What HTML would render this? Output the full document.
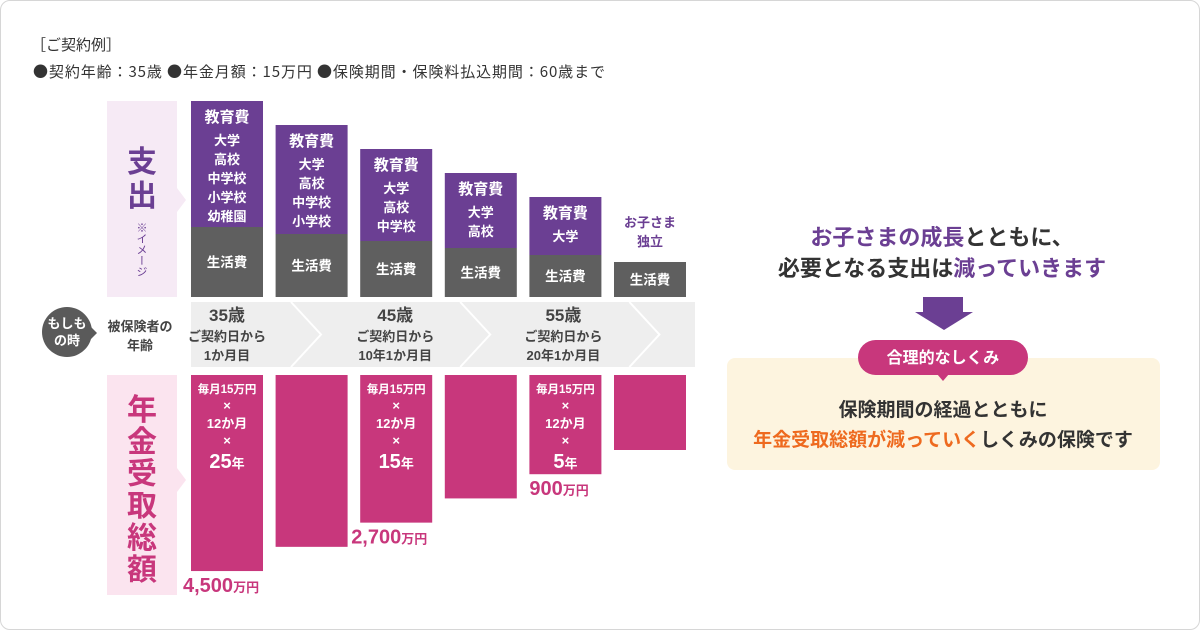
<!DOCTYPE html>
<html><head><meta charset="utf-8"><style>
body{margin:0;background:#fff;}
#wrap{position:relative;width:1200px;height:630px;overflow:hidden;font-family:"Liberation Sans","Noto Sans CJK JP",sans-serif;}
#frame{position:absolute;left:0;top:0;width:1198px;height:628px;border:1px solid #d6d6d6;border-radius:10px;}
svg text{font-family:"Liberation Sans","Noto Sans CJK JP",sans-serif;}
</style></head><body>
<div id="wrap">
<div id="frame"></div>
<svg id="chart" width="1200" height="630" style="position:absolute;left:0;top:0">
  <text x="31" y="50" font-size="15" fill="#333">［ご契約例］</text>
  <text x="33" y="77" font-size="15" fill="#333" textLength="572" style="font-family:'Noto Sans CJK JP','Liberation Sans',sans-serif">●契約年齢：35歳 ●年金月額：15万円 ●保険期間・保険料払込期間：60歳まで</text>
  <!-- expense label -->
  <rect x="107" y="101" width="70" height="196" fill="#f6eaf5"/>
  <polygon points="177,188 186,200 177,212" fill="#f6eaf5"/>
  <text x="142" y="172" font-size="30" font-weight="bold" fill="#6b3f93" text-anchor="middle"><tspan x="142">支</tspan><tspan x="142" dy="34">出</tspan></text>
  <text x="141" y="222" font-size="11" fill="#6b3f93" writing-mode="tb">※イメージ</text>
  <!-- payout label -->
  <rect x="107" y="375" width="70" height="220" fill="#fbe4ef"/>
  <polygon points="177,468 186,480 177,492" fill="#fbe4ef"/>
  <text x="142" y="420" font-size="30" font-weight="bold" fill="#c8377c" text-anchor="middle"><tspan x="142">年</tspan><tspan x="142" dy="32">金</tspan><tspan x="142" dy="32">受</tspan><tspan x="142" dy="32">取</tspan><tspan x="142" dy="32">総</tspan><tspan x="142" dy="32">額</tspan></text>
  <!-- age band -->
  <rect x="191" y="302" width="504" height="65" fill="#eeeeee"/>
  <circle cx="67" cy="332" r="25" fill="#5a5a5a"/>
  <polygon points="91,327 97,333 91,339" fill="#5a5a5a"/>
  <text x="67" y="328" font-size="13" font-weight="bold" fill="#fff" text-anchor="middle"><tspan x="67">もしも</tspan><tspan x="67" dy="17">の時</tspan></text>
  <text x="140" y="331" font-size="13" font-weight="bold" fill="#444" text-anchor="middle"><tspan x="140">被保険者の</tspan><tspan x="140" dy="19">年齢</tspan></text>
  <g id="chev"></g>
  <g id="bars"></g>
  <!-- right -->
  <text x="942" y="245" font-size="22" font-weight="bold" text-anchor="middle" fill="#333"><tspan fill="#6b3f93">お子さまの成長</tspan>とともに、</text>
  <text x="942" y="276" font-size="22" font-weight="bold" text-anchor="middle" fill="#333">必要となる支出は<tspan fill="#6b3f93">減っていきます</tspan></text>
  <rect x="923" y="297" width="40" height="16" fill="#6b3f93"/>
  <polygon points="915,312 973,312 944,330" fill="#6b3f93"/>
  <rect x="727" y="358" width="433" height="112" rx="8" fill="#fdf4df"/>
  <rect x="858" y="340" width="170" height="35" rx="17.5" fill="#c8377c"/>
  <polygon points="937,374 949,374 943,381" fill="#c8377c"/>
  <text x="943" y="363" font-size="16" font-weight="bold" fill="#fff" text-anchor="middle">合理的なしくみ</text>
  <text x="943" y="416" font-size="19" font-weight="bold" fill="#333" text-anchor="middle">保険期間の経過とともに</text>
  <text x="943" y="446" font-size="19" font-weight="bold" fill="#333" text-anchor="middle"><tspan fill="#ee6a1f">年金受取総額が減っていく</tspan>しくみの保険です</text>
</svg>
</div>
<script>
const categories=["35歳","40歳","45歳","50歳","55歳","60歳"];
const eduHeights=[126,109,92,75,58,0];
const lifeHeights=[70,63,56,49,42,35];
const eduLabels=[["大学","高校","中学校","小学校","幼稚園"],["大学","高校","中学校","小学校"],["大学","高校","中学校"],["大学","高校"],["大学"],[]];
const payouts=[4500,3600,2700,1800,900,0];
const payoutLabels=["4,500","","2,700","","900",""];
const formulaYears=["25","","15","","5",""];
const ageLabels=[["35歳","ご契約日から","1か月目"],["45歳","ご契約日から","10年1か月目"],["55歳","ご契約日から","20年1か月目"]];
const NS="http://www.w3.org/2000/svg";
const g=document.getElementById('bars');
const cx=i=>191+i*84.6, bw=72, base=297, pTop=375;
const py=v=>75+v*0.0269;
function mk(tag,at,parent){const e=document.createElementNS(NS,tag);for(const k in at)e.setAttribute(k,at[k]);(parent||g).appendChild(e);return e;}
function tx(x,y,s,size,fill,w){const t=mk('text',{x:x,y:y,'font-size':size,fill:fill,'text-anchor':'middle','font-weight':w||'bold'});t.textContent=s;return t;}
categories.forEach((c,i)=>{
  const x=cx(i),m=x+bw/2;
  const lt=base-lifeHeights[i];
  const r=mk('rect',{x:x,y:lt,width:bw,height:lifeHeights[i],fill:'#5f5f5f'});
  
  
  tx(m,lt+lifeHeights[i]/2+5,"生活費",13.5,'#fff');
  if(eduHeights[i]>0){
    const et=lt-eduHeights[i];
    const e=mk('rect',{x:x,y:et,width:bw,height:eduHeights[i],fill:'#6b3f93'});
    
    
    tx(m,et+21,"教育費",15,'#fff');
    eduLabels[i].forEach((s,j)=>tx(m,et+44+j*19,s,13,'#fff'));
  } else {
    tx(m,lt-35,"お子さま",13,'#6b3f93');tx(m,lt-16,"独立",13,'#6b3f93');
  }
  const h=py(payouts[i]);
  const p=mk('rect',{x:x,y:pTop,width:bw,height:h,fill:'#c8377c'});
  
  
  if(formulaYears[i]){
    tx(m,pTop+18,"毎月15万円",11.5,'#fff');tx(m,pTop+35,"×",13,'#fff');
    tx(m,pTop+53,"12か月",13,'#fff');tx(m,pTop+70,"×",13,'#fff');
    const t=tx(m,pTop+93,formulaYears[i],20,'#fff');const ts=mk('tspan',{'font-size':13},t);ts.textContent="年";
  }
  if(payoutLabels[i]){
    const t=mk('text',{x:x-8+(i==0?0:i==2?-1:8),y:pTop+h+21,'font-size':20,'font-weight':'bold',fill:'#c8377c'});
    t.textContent=payoutLabels[i];const ts=mk('tspan',{'font-size':13},t);ts.textContent="万円";
    
    
  }
});
const ch=document.getElementById('chev');
[0,1,2].forEach(k=>{const x=cx(k*2)+130;mk('polyline',{points:`${x-30},302 ${x},334.5 ${x-30},367`,fill:'none',stroke:'#fff','stroke-width':2},ch);});
ageLabels.forEach((a,k)=>{const m=cx(k*2)+bw/2+(k==0?0:k==1?-1:-2);tx(m,321,a[0],17,'#444');tx(m,341,a[1],13,'#444');tx(m,360,a[2],13,'#444');});
</script>
</body></html>
